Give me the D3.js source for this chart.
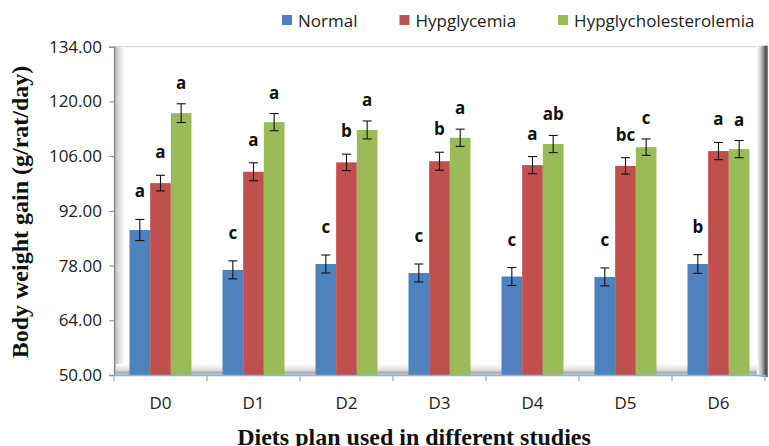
<!DOCTYPE html>
<html>
<head>
<meta charset="utf-8">
<script src="https://cdn.jsdelivr.net/npm/d3@7"></script>
<style>
  body { margin: 0; background: #fff; }
  svg { display: block; }
</style>
</head>
<body>
<div id="chart"></div>
<script>
// values
const diets = ["D0", "D1", "D2", "D3", "D4", "D5", "D6"];
const seriesNames = ["Normal", "Hypglycemia", "Hypglycholesterolemia"];
const normal = [87.1, 76.9, 78.4, 76.1, 75.2, 75.1, 78.4];
const hypglycemia = [99.1, 102.0, 104.4, 104.7, 103.7, 103.5, 107.3];
const hypglycholesterolemia = [117.0, 114.7, 112.7, 110.7, 109.1, 108.3, 107.8];
const normalErr = [2.7, 2.3, 2.3, 2.3, 2.3, 2.3, 2.4];
const hypglycemiaErr = [2.0, 2.3, 2.1, 2.3, 2.2, 2.1, 2.2];
const hypglycholesterolemiaErr = [2.4, 2.2, 2.3, 2.2, 2.2, 2.1, 2.2];
const normalLetters = ["a", "c", "c", "c", "c", "c", "b"];
const hypglycemiaLetters = ["a", "a", "b", "b", "a", "bc", "a"];
const hypglycholesterolemiaLetters = ["a", "a", "a", "a", "ab", "c", "a"];
const yTicks = [50, 64, 78, 92, 106, 120, 134];

const colors = ["#4f81bd", "#c0504d", "#9bbb59"];
const labelGap = [27, 22, 20];

const width = 769, height = 446;
const plot = { left: 114, right: 765, top: 46.7, bottom: 375 };

const svg = d3.select("#chart")
    .append("svg")
    .attr("width", width)
    .attr("height", height);

const defs = svg.append("defs");
const wallGrad = defs.append("linearGradient").attr("id", "wall");
wallGrad.append("stop").attr("offset", "0%").attr("stop-color", "#a9a9a9");
wallGrad.append("stop").attr("offset", "35%").attr("stop-color", "#d6d6d6");
wallGrad.append("stop").attr("offset", "100%").attr("stop-color", "#ffffff");

const floorGrad = defs.append("linearGradient").attr("id", "floor")
    .attr("x1", 0).attr("y1", 0).attr("x2", 0).attr("y2", 1);
floorGrad.append("stop").attr("offset", "0%").attr("stop-color", "#ffffff");
floorGrad.append("stop").attr("offset", "55%").attr("stop-color", "#dedede");
floorGrad.append("stop").attr("offset", "80%").attr("stop-color", "#a8a8a8");
floorGrad.append("stop").attr("offset", "100%").attr("stop-color", "#d4d4d4");

const sideGrad = defs.append("linearGradient").attr("id", "side");
sideGrad.append("stop").attr("offset", "0%").attr("stop-color", "#ffffff");
sideGrad.append("stop").attr("offset", "45%").attr("stop-color", "#b5b5b5");
sideGrad.append("stop").attr("offset", "80%").attr("stop-color", "#4a4a4a");
sideGrad.append("stop").attr("offset", "100%").attr("stop-color", "#8a8a8a");

const x = d3.scaleBand()
    .domain(diets)
    .range([plot.left, plot.right])
    .padding(0);

const xSub = d3.scaleBand()
    .domain(seriesNames)
    .range([x.bandwidth() / 6, x.bandwidth() * 5 / 6])
    .padding(0);

const y = d3.scaleLinear()
    .domain([50, 134])
    .range([plot.bottom, plot.top]);

// plot frame: 3d-ish wall, floor and side shading
svg.append("line")
    .attr("x1", plot.left).attr("x2", plot.right - 4)
    .attr("y1", plot.top).attr("y2", plot.top)
    .attr("stroke", "#d9d9d9").attr("stroke-width", 1.2);

svg.append("rect")
    .attr("x", plot.left).attr("y", plot.top)
    .attr("width", 11).attr("height", plot.bottom - plot.top)
    .attr("fill", "url(#wall)");

svg.append("rect")
    .attr("x", plot.left + 2).attr("y", plot.bottom - 11)
    .attr("width", plot.right - plot.left - 4).attr("height", 11)
    .attr("fill", "url(#floor)");

svg.append("rect")
    .attr("x", plot.right - 8).attr("y", plot.top - 1)
    .attr("width", 11).attr("height", plot.bottom - plot.top + 3)
    .attr("fill", "url(#side)");

// rows of bars
const rows = diets.map((d, i) => ({
    diet: d,
    items: [
        { name: seriesNames[0], value: normal[i], err: normalErr[i], letter: normalLetters[i], k: 0 },
        { name: seriesNames[1], value: hypglycemia[i], err: hypglycemiaErr[i], letter: hypglycemiaLetters[i], k: 1 },
        { name: seriesNames[2], value: hypglycholesterolemia[i], err: hypglycholesterolemiaErr[i], letter: hypglycholesterolemiaLetters[i], k: 2 }
    ]
}));

const groups = svg.append("g")
    .selectAll("g")
    .data(rows)
    .join("g")
    .attr("transform", d => `translate(${x(d.diet)},0)`);

groups.selectAll("rect")
    .data(d => d.items)
    .join("rect")
    .attr("x", d => xSub(d.name))
    .attr("y", d => y(d.value))
    .attr("width", xSub.bandwidth())
    .attr("height", d => y(50) - y(d.value))
    .attr("fill", d => colors[d.k]);

// error bars
const err = groups.selectAll("g.err")
    .data(d => d.items)
    .join("g")
    .attr("class", "err")
    .attr("stroke", "#111")
    .attr("stroke-width", 1.1);

const cx = d => xSub(d.name) + xSub.bandwidth() / 2;
err.append("line")
    .attr("x1", cx).attr("x2", cx)
    .attr("y1", d => y(d.value + d.err)).attr("y2", d => y(d.value - d.err));
err.append("line")
    .attr("x1", d => cx(d) - 4.5).attr("x2", d => cx(d) + 4.5)
    .attr("y1", d => y(d.value + d.err)).attr("y2", d => y(d.value + d.err));
err.append("line")
    .attr("x1", d => cx(d) - 4.5).attr("x2", d => cx(d) + 4.5)
    .attr("y1", d => y(d.value - d.err)).attr("y2", d => y(d.value - d.err));

// significance letters
groups.selectAll("text.sig")
    .data(d => d.items)
    .join("text")
    .attr("class", "sig")
    .attr("x", cx)
    .attr("y", d => y(d.value + d.err) - labelGap[d.k] + 5)
    .attr("text-anchor", "middle")
    .attr("font-family", "'Open Sans', sans-serif")
    .attr("font-weight", "bold")
    .attr("font-size", 17)
    .attr("fill", "#111")
    .text(d => d.letter);

// y axis
const yAxis = svg.append("g")
    .attr("transform", `translate(${plot.left},0)`)
    .call(d3.axisLeft(y).tickValues(yTicks).tickFormat(d3.format(".2f")).tickSize(5).tickPadding(7));
yAxis.select(".domain").attr("stroke", "#8c8c8c").attr("stroke-width", 1.3);
yAxis.selectAll(".tick line").attr("stroke", "#8c8c8c");
yAxis.selectAll("text")
    .attr("font-family", "'Open Sans', sans-serif")
    .attr("font-size", 17)
    .attr("fill", "#222");

// x axis
const xAxis = svg.append("g")
    .attr("transform", `translate(0,${plot.bottom})`)
    .call(d3.axisBottom(x).tickSize(0).tickPadding(22));
xAxis.select(".domain").attr("stroke", "#8db3e2").attr("stroke-width", 1.5);
xAxis.selectAll("text")
    .attr("font-family", "'Open Sans', sans-serif")
    .attr("font-size", 17)
    .attr("fill", "#222");
xAxis.selectAll("line.cat")
    .data(d3.range(diets.length + 1))
    .join("line")
    .attr("class", "cat")
    .attr("x1", i => plot.left + i * x.bandwidth())
    .attr("x2", i => plot.left + i * x.bandwidth())
    .attr("y1", 0).attr("y2", 6)
    .attr("stroke", "#8db3e2").attr("stroke-width", 1.3);

// axis titles
svg.append("text")
    .attr("transform", "translate(28,212) rotate(-90)")
    .attr("text-anchor", "middle")
    .attr("font-family", "'Liberation Serif', 'Times New Roman', serif")
    .attr("font-weight", "bold")
    .attr("font-size", 24)
    .attr("fill", "#111")
    .text("Body weight gain (g/rat/day)");

svg.append("text")
    .attr("x", 414)
    .attr("y", 445)
    .attr("text-anchor", "middle")
    .attr("font-family", "'Liberation Serif', 'Times New Roman', serif")
    .attr("font-weight", "bold")
    .attr("font-size", 24)
    .attr("fill", "#111")
    .text("Diets plan used in different studies");

// legend
const legend = svg.append("g");
let lx = 282;
seriesNames.forEach((name, i) => {
    legend.append("rect")
        .attr("x", lx).attr("y", 15)
        .attr("width", 10).attr("height", 10)
        .attr("fill", colors[i]);
    const t = legend.append("text")
        .attr("x", lx + 16).attr("y", 26.5)
        .attr("font-family", "'Open Sans', sans-serif")
        .attr("font-size", 17)
        .attr("fill", "#222")
        .text(name);
    lx += 16 + t.node().getComputedTextLength() + 42;
});
</script>
</body>
</html>
